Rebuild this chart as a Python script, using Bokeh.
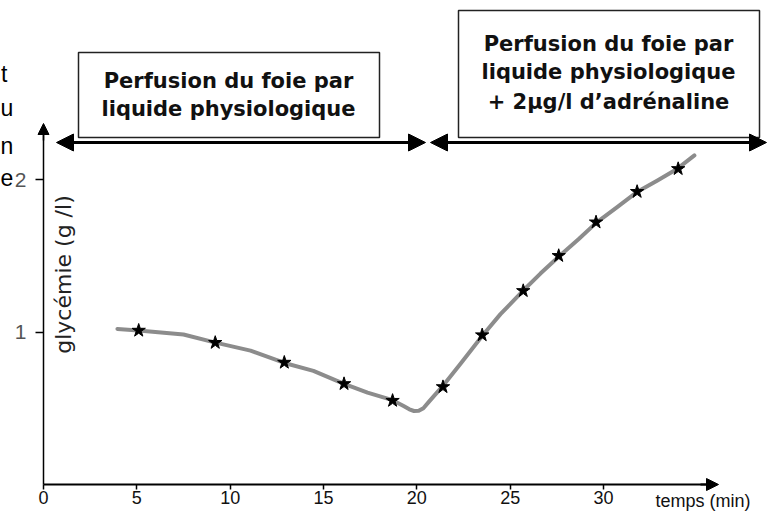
import numpy as np
from bokeh.plotting import figure
from bokeh.models import Range1d, LinearAxis, FixedTicker, Arrow, NormalHead
from bokeh.core.properties import value
from bokeh.embed import file_html
from bokeh.resources import INLINE

# ---------------- data ----------------
# measured points (stars)
time_min = [5.1, 9.2, 12.9, 16.1, 18.7, 21.4, 23.5, 25.7, 27.6, 29.6, 31.8, 34.0]
glycemie = [1.01, 0.93, 0.80, 0.66, 0.55, 0.64, 0.98, 1.27, 1.50, 1.72, 1.92, 2.07]

# smooth hand-drawn curve through the points
curve_time = [3.96, 5.09, 7.50, 9.16, 11.09, 12.91, 14.46, 16.07, 17.36, 18.70,
              19.29, 19.60, 19.85, 20.10, 20.35, 20.63, 21.37, 22.34, 23.52, 24.48,
              25.66, 26.62, 27.64, 28.66, 29.62, 30.75, 31.77, 32.89, 33.96, 34.87]
curve_glycemie = [1.02, 1.01, 0.984, 0.932, 0.878, 0.797, 0.745, 0.662, 0.603, 0.553,
                  0.515, 0.493, 0.482, 0.483, 0.500, 0.540, 0.643, 0.791, 0.977, 1.117,
                  1.267, 1.383, 1.498, 1.608, 1.717, 1.820, 1.916, 1.994, 2.071, 2.158]

x_ticks = [0, 5, 10, 15, 20, 25, 30]
y_ticks = [1, 2]

phase1_lines = ["Perfusion du foie par", "liquide physiologique"]
phase2_lines = ["Perfusion du foie par", "liquide physiologique", "+ 2\u03bcg/l d\u2019adr\u00e9naline"]
margin_letters = ["t", "u", "n", "e"]

# ---------------- layout helpers ----------------
W, H = 768, 511
PX_MIN = 18.667      # pixels per minute
PX_UNIT = 152.5      # pixels per g/l
OX, OY = 43, 484     # canvas position of the origin


def dx(px):  # canvas pixel -> minutes
    return (px - OX) / PX_MIN


def dy(py):  # canvas pixel -> g/l
    return (OY - py) / PX_UNIT


p = figure(width=W, height=H,
           x_range=Range1d(dx(0), dx(W)),
           y_range=Range1d(dy(H), dy(0)),
           output_backend="svg", toolbar_location=None,
           x_axis_location=None, y_axis_location=None, min_border=0)
p.outline_line_color = None
p.xgrid.grid_line_color = None
p.ygrid.grid_line_color = None
p.background_fill_color = "white"
p.border_fill_color = "white"

# ---------------- axes ----------------
xaxis = LinearAxis(fixed_location=0, bounds=(0, dx(712)),
                   ticker=FixedTicker(ticks=x_ticks))
xaxis.axis_line_width = 2
xaxis.axis_line_color = "black"
xaxis.major_tick_out = 5
xaxis.major_tick_in = 0
xaxis.major_tick_line_width = 1.5
xaxis.minor_tick_line_color = None
xaxis.major_label_standoff = 1
xaxis.major_label_text_font = "Liberation Sans"
xaxis.major_label_text_font_size = "18px"
xaxis.major_label_text_color = "#111111"
p.add_layout(xaxis, "below")

yaxis = LinearAxis(fixed_location=0, bounds=(0, dy(128)),
                   ticker=FixedTicker(ticks=y_ticks))
yaxis.axis_line_width = 1.5
yaxis.axis_line_color = "black"
yaxis.major_tick_out = 8
yaxis.major_tick_in = 0
yaxis.major_tick_line_width = 1.5
yaxis.minor_tick_line_color = None
yaxis.major_label_standoff = 9
yaxis.major_label_text_font = "Liberation Sans"
yaxis.major_label_text_font_size = "21px"
yaxis.major_label_text_color = "#555555"
p.add_layout(yaxis, "left")

# axis arrow heads
p.add_layout(Arrow(end=NormalHead(size=12, fill_color="black", line_color="black"),
                   x_start=dx(700), y_start=0, x_end=dx(718), y_end=0,
                   line_width=2, line_color="black"))
p.add_layout(Arrow(end=NormalHead(size=11, fill_color="black", line_color="black"),
                   x_start=0, y_start=dy(140), x_end=0, y_end=dy(123),
                   line_width=1.5, line_color="black"))

# axis titles
p.text(x=[dx(655)], y=[dy(490)], text=["temps (min)"], text_align="left",
       text_baseline="top", text_font=value("Liberation Sans"),
       text_font_size="18px", text_color="#111111")
p.text(x=[dx(63)], y=[dy(274)], text=["glyc\u00e9mie (g /l)"], angle=np.pi / 2,
       text_align="center", text_baseline="middle", text_font=value("DejaVu Sans"),
       text_font_size="22px", text_color="#222222")

# ---------------- phase boxes and arrows ----------------
p.quad(left=[dx(78), dx(458)], right=[dx(379), dx(759)],
       top=[dy(52), dy(10)], bottom=[dy(137), dy(137)],
       fill_color="white", line_color="#222222", line_width=1.5)

p.text(x=[dx(228)] * 2, y=[dy(80), dy(108)], text=phase1_lines,
       text_align="center", text_baseline="alphabetic",
       text_font=value("DejaVu Sans"), text_font_style="bold",
       text_font_size="21px", text_color="#111111")
p.text(x=[dx(608)] * 3, y=[dy(43), dy(71), dy(101)], text=phase2_lines,
       text_align="center", text_baseline="alphabetic",
       text_font=value("DejaVu Sans"), text_font_style="bold",
       text_font_size="21px", text_color="#111111")

for xs, xe in [(dx(56), dx(425)), (dx(430), dx(766))]:
    p.add_layout(Arrow(start=NormalHead(size=17, fill_color="black", line_color="black"),
                       end=NormalHead(size=17, fill_color="black", line_color="black"),
                       x_start=xs, y_start=dy(142), x_end=xe, y_end=dy(142),
                       line_width=3, line_color="black"))

# paragraph letters at the left edge (word endings of a cropped text)
p.text(x=[dx(0.5), dx(0), dx(0), dx(0)], y=[dy(73), dy(107), dy(145), dy(177)],
       text=margin_letters, text_align="left", text_baseline="alphabetic",
       text_font=value("Liberation Sans"), text_font_size="23px", text_color="black")

# ---------------- data ----------------
p.line(curve_time, curve_glycemie, line_width=4, line_color="#8c8c8c",
       line_join="round", line_cap="round")
p.scatter(time_min, glycemie, marker="star", size=14,
          fill_color="black", line_color="black")

open("out.html", "w").write(file_html(p, INLINE))
